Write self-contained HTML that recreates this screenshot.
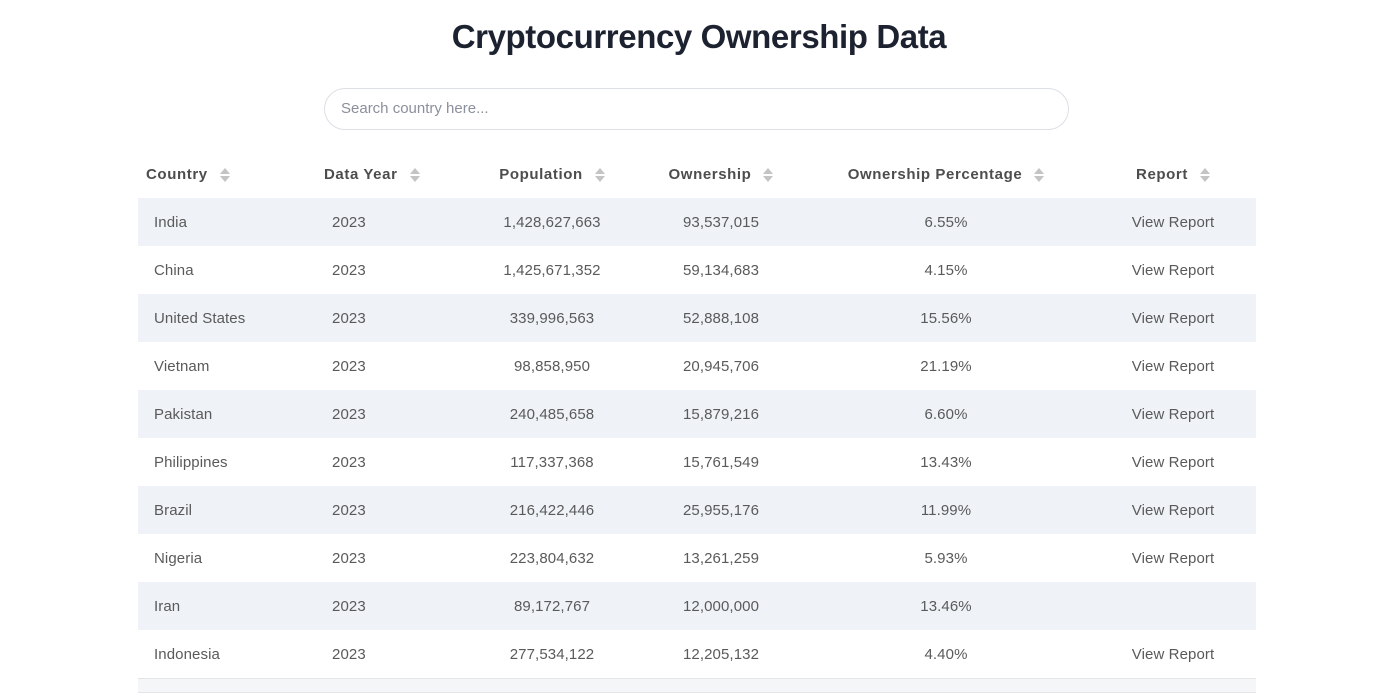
<!DOCTYPE html>
<html><head><meta charset="utf-8"><style>
body{margin:0;width:1398px;height:695px;background:#fff;font-family:"Liberation Sans",sans-serif;overflow:hidden;position:relative}
h1{position:absolute;top:18px;left:0;width:1398px;margin:0;text-align:center;font-size:33px;font-weight:bold;color:#1c2230;letter-spacing:-0.4px}
.search{position:absolute;left:324px;top:88px;width:743px;height:40px;border:1px solid #dcdfe4;border-radius:21px;box-sizing:content-box}
.search span{position:absolute;left:16px;top:11px;font-size:15px;color:#8a909c}
table{position:absolute;left:138px;top:150px;width:1118px;border-collapse:collapse;table-layout:fixed}
th{height:48px;font-size:15px;font-weight:bold;color:#4d4d4d;padding:0;letter-spacing:0.6px}
td{height:48px;font-size:15px;color:#5a5a5a;padding:0;letter-spacing:0.1px}
th.l,td.l{text-align:left;padding-left:8px}
td.l{padding-left:16px}
th.c,td.c{text-align:center}
tbody tr:nth-child(odd){background:#eff2f7}
.ic{display:inline-block;vertical-align:middle;margin-left:12px;width:10px;height:14px;position:relative}
.ic:before{content:"";position:absolute;left:0;top:0;border-left:5px solid transparent;border-right:5px solid transparent;border-bottom:6px solid #c4c4c4}
.ic:after{content:"";position:absolute;left:0;top:8px;border-left:5px solid transparent;border-right:5px solid transparent;border-top:6px solid #c4c4c4}
.tail{position:absolute;left:138px;top:678px;width:1118px;height:13px;border-top:1px solid #e3e5e8;border-bottom:1px solid #e3e5e8;background:#f5f6f8}
</style></head><body>
<h1>Cryptocurrency Ownership Data</h1>
<div class="search"><span>Search country here...</span></div>
<table>
<colgroup><col style="width:178px"><col style="width:148px"><col style="width:176px"><col style="width:162px"><col style="width:288px"><col style="width:166px"></colgroup>
<thead><tr>
<th class="l">Country<span class="ic"></span></th>
<th class="l">Data Year<span class="ic"></span></th>
<th class="c">Population<span class="ic"></span></th>
<th class="c">Ownership<span class="ic"></span></th>
<th class="c">Ownership Percentage<span class="ic"></span></th>
<th class="c">Report<span class="ic"></span></th>
</tr></thead>
<tbody id="tb"></tbody>
</table>
<div class="tail"></div>
<script>
const countries=["India","China","United States","Vietnam","Pakistan","Philippines","Brazil","Nigeria","Iran","Indonesia"];
const population=["1,428,627,663","1,425,671,352","339,996,563","98,858,950","240,485,658","117,337,368","216,422,446","223,804,632","89,172,767","277,534,122"];
const ownership=["93,537,015","59,134,683","52,888,108","20,945,706","15,879,216","15,761,549","25,955,176","13,261,259","12,000,000","12,205,132"];
const percentage=["6.55%","4.15%","15.56%","21.19%","6.60%","13.43%","11.99%","5.93%","13.46%","4.40%"];
const hasReport=[1,1,1,1,1,1,1,1,0,1];
const tb=document.getElementById('tb');
countries.forEach((c,i)=>{
const tr=document.createElement('tr');


const cells=[[c,'l'],['2023','l'],[population[i],'c'],[ownership[i],'c'],[percentage[i],'c'],[hasReport[i]?'View Report':'','c']];
cells.forEach((v,j)=>{
const td=document.createElement('td');
td.className=v[1];
td.textContent=v[0];
if(j===5){}
else{}
tr.appendChild(td);
});
tb.appendChild(tr);
});
</script>
</body></html>
